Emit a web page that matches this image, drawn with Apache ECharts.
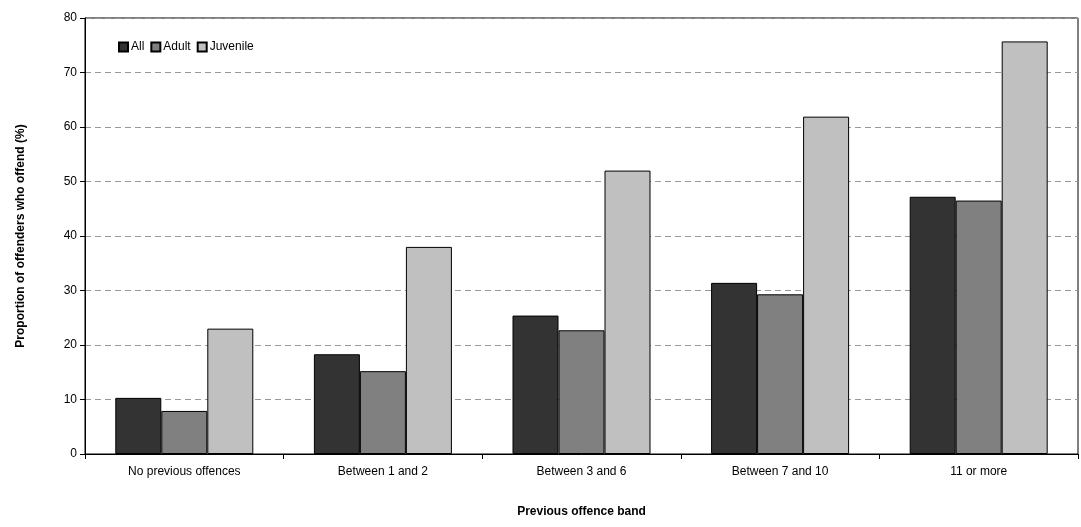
<!DOCTYPE html>
<html>
<head>
<meta charset="utf-8">
<script src="https://cdn.jsdelivr.net/npm/echarts@6/dist/echarts.min.js"></script>
<style>html,body{margin:0;padding:0;background:#fff}#chart{width:1081px;height:527px}</style>
</head>
<body>
<div id="chart"></div>
<script>
// 数据
const categories = ['No previous offences', 'Between 1 and 2', 'Between 3 and 6', 'Between 7 and 10', '11 or more'];
const allValues = [10.3, 18.3, 25.4, 31.4, 47.2];
const adultValues = [7.9, 15.2, 22.7, 29.3, 46.5];
const juvenileValues = [23.0, 38.0, 52.0, 61.9, 75.7];

const chart = echarts.init(document.getElementById('chart'));
const font = 'Arial, "Liberation Sans", sans-serif';
const barStyle = c => ({ color: c, borderColor: '#000', borderWidth: 1 });

chart.setOption({
    animation: false,
    textStyle: { fontFamily: font },
    grid: { left: 85, right: 3, top: 18, bottom: 73 },
    legend: {
        left: 113, top: 36, itemGap: 6, itemWidth: 9, itemHeight: 9, icon: 'rect',
        textStyle: { fontSize: 12, color: '#000', fontFamily: font, padding: [0, 0, 0, -2] },
        data: ['All', 'Adult', 'Juvenile']
    },
    xAxis: {
        type: 'category', data: categories,
        name: 'Previous offence band', nameLocation: 'middle', nameGap: 52,
        nameTextStyle: { fontWeight: 'bold', fontSize: 12, color: '#000' },
        axisLine: { lineStyle: { color: '#000' } },
        axisTick: { show: true, lineStyle: { color: '#000' } },
        axisLabel: { color: '#000', fontSize: 12, margin: 12 }
    },
    yAxis: {
        type: 'value', min: 0, max: 80, interval: 10,
        name: 'Proportion of offenders who offend (%)', nameLocation: 'middle', nameGap: 58,
        nameTextStyle: { fontWeight: 'bold', fontSize: 12, color: '#000' },
        axisLine: { show: true, lineStyle: { color: '#000' } },
        axisTick: { show: true, lineStyle: { color: '#000' } },
        axisLabel: { color: '#000', fontSize: 12 },
        splitLine: { lineStyle: { color: '#999', type: [6, 4] } }
    },
    series: [
        { name: 'All', type: 'bar', data: allValues, itemStyle: barStyle('#333333'), barWidth: 46, barGap: '0%' },
        { name: 'Adult', type: 'bar', data: adultValues, itemStyle: barStyle('#808080'), barWidth: 46, barGap: '0%' },
        { name: 'Juvenile', type: 'bar', data: juvenileValues, itemStyle: barStyle('#c0c0c0'), barWidth: 46, barGap: '0%' }
    ],
    graphic: [{ type: 'rect', shape: { x: 85, y: 18, width: 993, height: 436 }, style: { fill: 'none', stroke: '#000', lineWidth: 1 }, silent: true }]
});
</script>
</body>
</html>
